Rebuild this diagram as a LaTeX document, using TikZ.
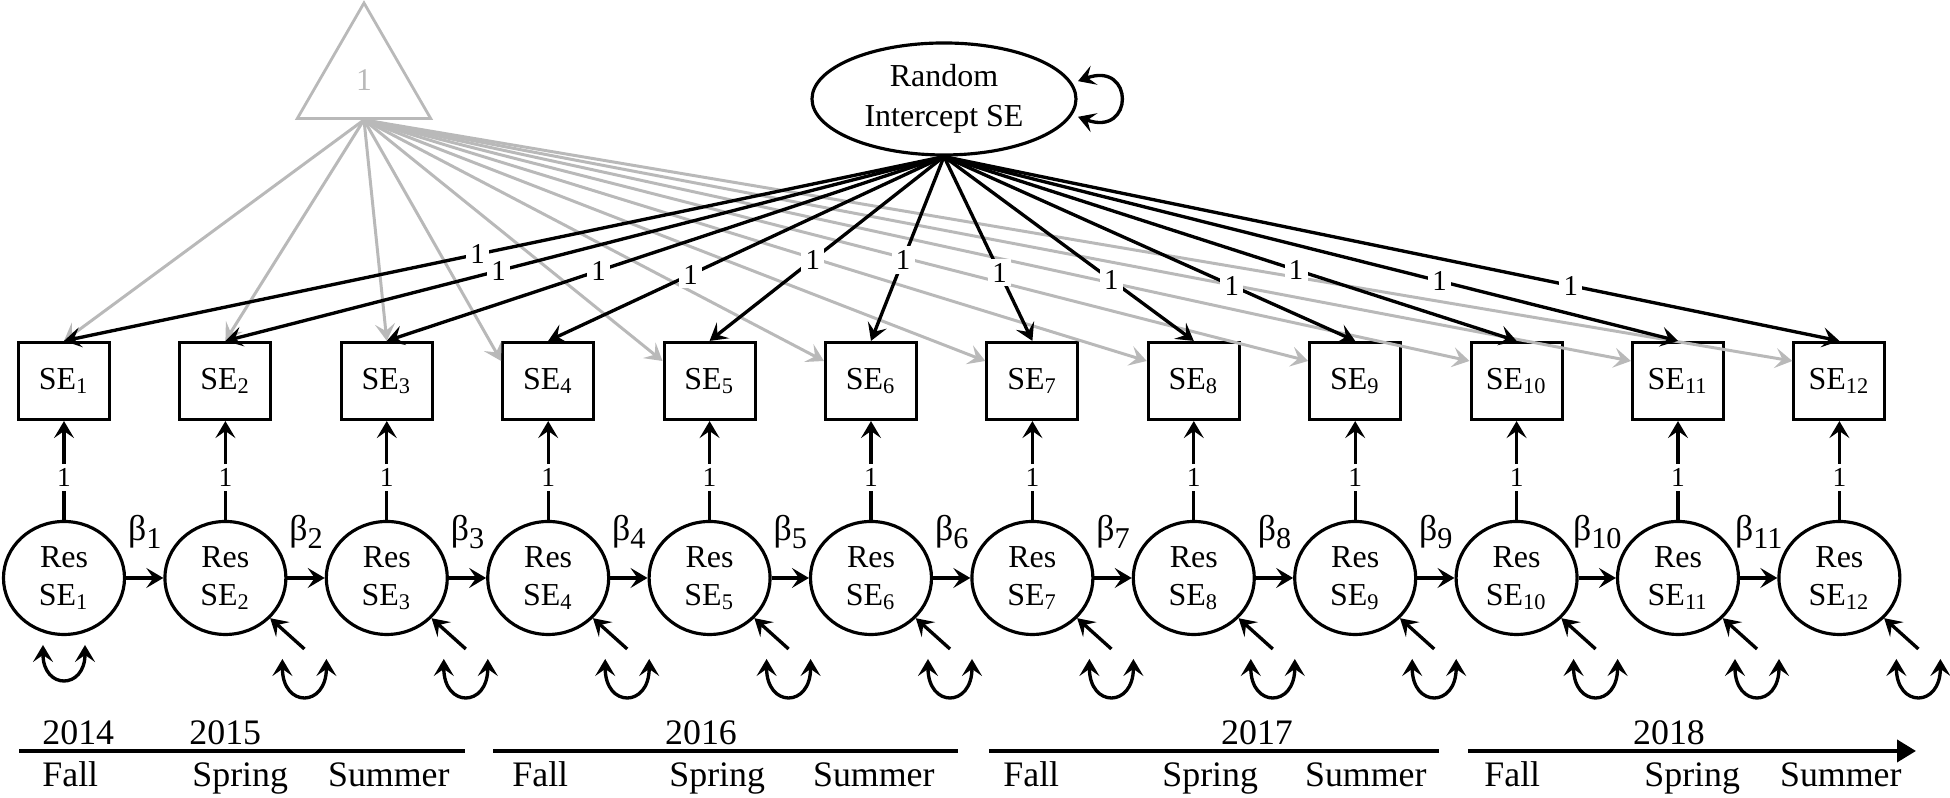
\documentclass[tikz,border=0pt]{standalone}
\usepackage{fontspec}
\setmainfont{Liberation Serif}
\usepackage{tikz}
\usetikzlibrary{arrows.meta, shapes.geometric, calc}
\definecolor{mygray}{RGB}{185,185,185}
\newcommand{\betalab}[1]{β\raisebox{-0.45ex}{\fontsize{8.6}{8.6}\selectfont #1}}
\tikzset{
  obsbox/.style={draw, line width=0.9pt, minimum width=0.91cm, minimum height=0.77cm, inner sep=1pt, font=\fontsize{9.1}{11}\selectfont},
  rescirc/.style={draw, ellipse, line width=0.9pt, minimum width=1.21cm, minimum height=1.13cm, inner sep=0pt, align=center, font=\fontsize{9.1}{10.8}\selectfont},
  arr/.style={line width=0.95pt, ->},
  grayarr/.style={mygray, line width=0.85pt, ->},
  vararr/.style={line width=0.95pt, <->},
  onelab/.style={fill=white, inner sep=1.2pt, font=\fontsize{7.8}{8}\selectfont},
  timelab/.style={font=\fontsize{10.2}{12}\selectfont},
}

\begin{document}
\begin{tikzpicture}[>={Stealth[length=1.7mm,width=2.0mm,inset=0.7mm]}]
    \useasboundingbox (0,0) rectangle (19.5,7.98);

    % Constant
    \node[draw=mygray, line width=0.8pt, regular polygon, regular polygon sides=3, minimum size=1.54cm, inner sep=0pt, text=mygray, font=\fontsize{9}{9}\selectfont] (one) at (3.64,7.18) {1};

    % Random intercept
    \node[draw, ellipse, line width=0.9pt, minimum width=2.64cm, minimum height=1.12cm, inner sep=0pt, align=center, font=\fontsize{9.1}{11.4}\selectfont] (ri) at (9.44,6.99) {Random\\Intercept SE};
    \draw[vararr] ([xshift=0.07cm]ri.8) .. controls +(20:0.6) and +(-20:0.6) .. ([xshift=0.07cm]ri.352);

    % Observed SE and residuals
    \foreach \i in {1,...,12} {
        \node[obsbox] (se\i) at ({0.64+(\i-1)*1.614},4.17) {SE\textsubscript{\i}};
        \node[rescirc] (res\i) at ({0.64+(\i-1)*1.614},2.20) {Res\\SE\textsubscript{\i}};
        \draw[arr] (res\i) -- node[onelab, pos=0.43] {1} (se\i);
    }

    % Means
    \foreach \i in {1,2,3}
        \draw[grayarr] (one.south) -- (se\i.north);
    \foreach \i in {4,...,12}
        \draw[grayarr] (one.south) -- (se\i.157);

    % Loadings
    \foreach \i/\p in {1/0.53, 2/0.62, 3/0.62, 4/0.64, 5/0.56, 6/0.56, 7/0.63, 8/0.67, 9/0.70, 10/0.615, 11/0.675, 12/0.70}
        \draw[arr] (ri.south) -- node[onelab, pos=\p, font=\fontsize{8.2}{8}\selectfont] {1} (se\i.north);

    % Autoregressions
    \foreach \i [count=\j from 2] in {1,...,11}
        \draw[arr] (res\i) -- node[yshift=0.46cm, font=\fontsize{10.2}{12}\selectfont] {\betalab{\i}} (res\j);

    % Variances
    \coordinate (vl1) at ($(res1)+(-0.21,-0.67)$);
    \coordinate (vr1) at ($(res1)+(0.21,-0.67)$);
    \draw[vararr] (vl1) .. controls +(0,-0.45) and +(0,-0.45) .. (vr1);
    \foreach \i in {2,...,12} {
        \coordinate (e\i) at ($(res\i)+(0.79,-0.71)$);
        \coordinate (vl\i) at ($(e\i)+(-0.22,-0.10)$);
        \coordinate (vr\i) at ($(e\i)+(0.22,-0.10)$);
        \draw[arr] (e\i) -- (res\i);
        \draw[vararr] (vl\i) .. controls +(0,-0.49) and +(0,-0.49) .. (vr\i);
    }

    % Timeline
    \draw[line width=1.1pt] (0.19,0.47) -- (4.65,0.47);
    \draw[line width=1.1pt] (4.93,0.47) -- (9.58,0.47);
    \draw[line width=1.1pt] (9.89,0.47) -- (14.39,0.47);
    \draw[line width=1.1pt, -{Triangle[length=1.9mm,width=2.2mm]}] (14.68,0.47) -- (19.16,0.47);
    \node[timelab, anchor=base west] at (0.30,0.53) {2014};
    \node[timelab, anchor=base west] at (1.77,0.53) {2015};
    \node[timelab, anchor=base] at (7.01,0.53) {2016};
    \node[timelab, anchor=base] at (12.57,0.53) {2017};
    \node[timelab, anchor=base] at (16.69,0.53) {2018};
    \node[timelab, anchor=base west] at (0.30,0.11) {Fall};
    \node[timelab, anchor=base west] at (1.80,0.11) {Spring};
    \node[timelab, anchor=base east] at (4.62,0.11) {Summer};
    \node[timelab, anchor=base west] at (5.00,0.11) {Fall};
    \node[timelab, anchor=base west] at (6.57,0.11) {Spring};
    \node[timelab, anchor=base east] at (9.47,0.11) {Summer};
    \node[timelab, anchor=base west] at (9.91,0.11) {Fall};
    \node[timelab, anchor=base west] at (11.50,0.11) {Spring};
    \node[timelab, anchor=base east] at (14.39,0.11) {Summer};
    \node[timelab, anchor=base west] at (14.72,0.11) {Fall};
    \node[timelab, anchor=base west] at (16.32,0.11) {Spring};
    \node[timelab, anchor=base east] at (19.14,0.11) {Summer};
\end{tikzpicture}
\end{document}
